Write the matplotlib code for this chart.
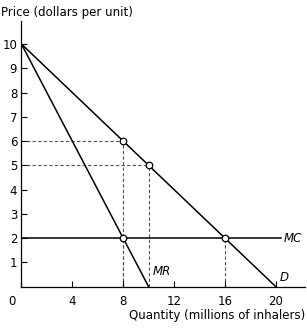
import numpy as np
import matplotlib
matplotlib.use("Agg")
import matplotlib.pyplot as plt
from matplotlib.transforms import ScaledTranslation

# Data
quantity_ticks = [0, 4, 8, 12, 16, 20]
price_ticks = [1, 2, 3, 4, 5, 6, 7, 8, 9, 10]
demand_q = [0, 20]
demand_p = [10, 0]
mr_q = [0, 10]
mr_p = [10, 0]
mc_q = [0, 20.4]
mc_p = [2, 2]
points_q = [8, 10, 8, 16]
points_p = [6, 5, 2, 2]

plt.rcParams["font.family"] = "DejaVu Sans"

fig = plt.figure(figsize=(3.07, 3.28), dpi=100)
ax = fig.add_axes([0.0697, 0.126, 0.924, 0.811])

# Dashed guides
for q, p in zip(points_q, points_p):
    ax.plot([q, q], [0, p], ls=(0, (3, 2)), color="#555555", lw=0.8, zorder=1)
    if p != 2:
        ax.plot([0, q], [p, p], ls=(0, (3, 2)), color="#555555", lw=0.8, zorder=1)

ax.plot(demand_q, demand_p, color="black", lw=1.1, zorder=2)
ax.plot(mr_q, mr_p, color="black", lw=1.1, zorder=2)
ax.plot(mc_q, mc_p, color="black", lw=1.1, zorder=2)
ax.scatter(points_q, points_p, s=22, facecolor="white", edgecolor="black",
           linewidth=0.9, zorder=3)

ax.text(20.6, 2, "MC", style="italic", fontsize=8.5, va="center", ha="left")
ax.text(10.3, 0.35, "MR", style="italic", fontsize=8.5, va="bottom", ha="left")
ax.text(20.3, 0.1, "D", style="italic", fontsize=8.5, va="bottom", ha="left")

ax.set_xlim(0, 22.3)
ax.set_ylim(0, 10.96)
ax.set_xticks(quantity_ticks)
ax.set_yticks(price_ticks)
ax.tick_params(direction="in", length=4, width=0.8, labelsize=8.5)
ax.tick_params(axis="x", pad=6)
ax.tick_params(axis="y", pad=3)
# the origin label sits left of the axis corner
lbl0 = ax.get_xticklabels()[0]
lbl0.set_transform(lbl0.get_transform() + ScaledTranslation(-9 / 100, 0, fig.dpi_scale_trans))
for s in ["top", "right"]:
    ax.spines[s].set_visible(False)
for s in ["left", "bottom"]:
    ax.spines[s].set_linewidth(0.9)

fig.text(0.003, 0.963, "Price (dollars per unit)", fontsize=8.5, ha="left", va="center")
fig.text(0.995, 0.037, "Quantity (millions of inhalers)", fontsize=8.5, ha="right", va="center")

fig.savefig("out.png", dpi=100)
